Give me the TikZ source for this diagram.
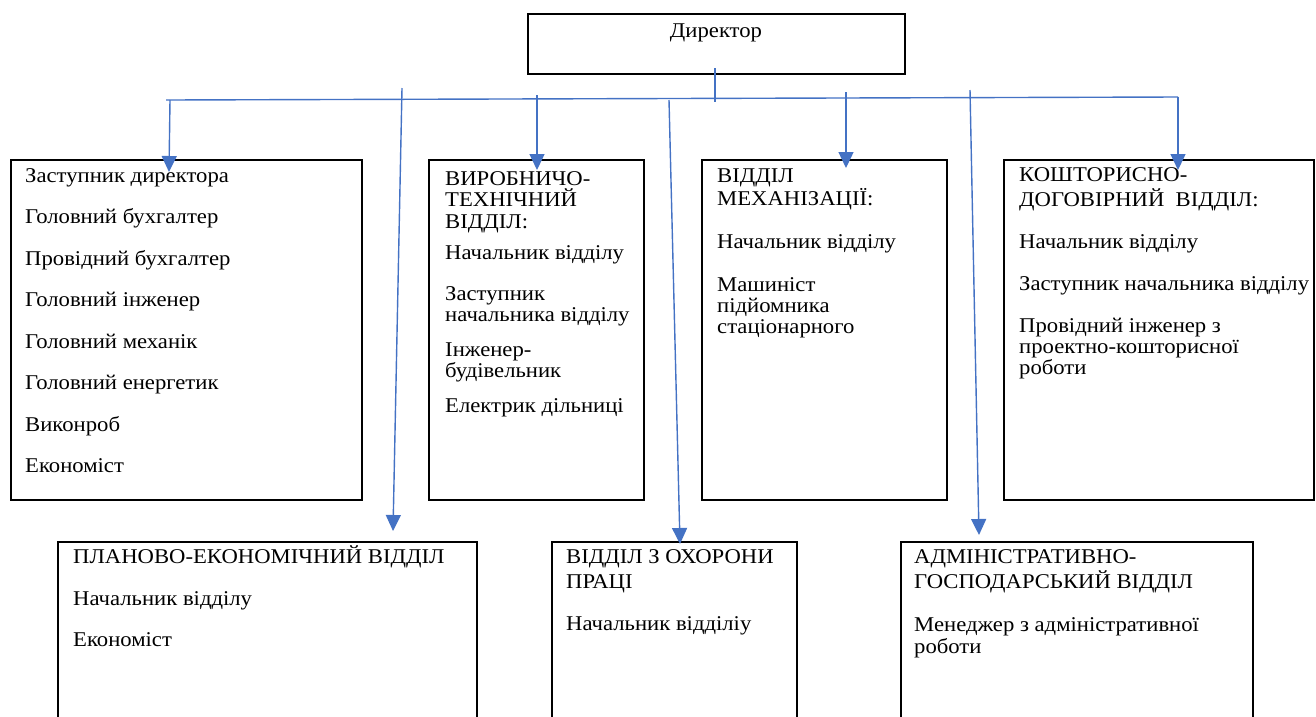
\documentclass[tikz,border=0pt]{standalone}
\usepackage{fontspec}
\setmainfont{Liberation Serif}[FakeStretch=1.08]
\usetikzlibrary{arrows.meta}
\definecolor{conblue}{HTML}{4472C4}
\tikzset{
  box/.style={draw=black, line width=2.3pt, anchor=north west, inner sep=0pt, fill=none},
  txt/.style={anchor=base west, inner sep=0pt, font=\fontsize{21}{24}\selectfont},
  conn/.style={draw=conblue, line width=1.4pt},
  arr/.style={conn, -{Triangle[width=15pt,length=16pt]}}
}
\begin{document}
\begin{tikzpicture}[x=1pt,y=-1pt]
\useasboundingbox (0,0) rectangle (1316,716);
\clip (0,0) rectangle (1316,716);
% boxes
\node[box, minimum width=377, minimum height=60] (d) at (527,13) {};
\node[box, minimum width=351, minimum height=340] (b1) at (10,158.5) {};
\node[box, minimum width=215, minimum height=340] (b2) at (428,158.5) {};
\node[box, minimum width=245, minimum height=340] (b3) at (701,158.5) {};
\node[box, minimum width=310, minimum height=340] (b4) at (1003,158.5) {};
\node[box, minimum width=419, minimum height=200] (b5) at (57,540.5) {};
\node[box, minimum width=245, minimum height=200] (b6) at (551,540.5) {};
\node[box, minimum width=352, minimum height=200] (b7) at (900,540.5) {};
% director
\node[txt, anchor=base] (dt) at (716,37) {Директор};
% box 1
\node[txt] (b1a) at (25,182) {Заступник директора};
\node[txt] (b1b) at (25,223.5) {Головний бухгалтер};
\node[txt] (b1c) at (25,265) {Провідний бухгалтер};
\node[txt] (b1d) at (25,306.5) {Головний інженер};
\node[txt] (b1e) at (25,348) {Головний механік};
\node[txt] (b1f) at (25,389.5) {Головний енергетик};
\node[txt] (b1g) at (25,431) {Виконроб};
\node[txt] (b1h) at (25,472.5) {Економіст};
% box 2
\node[txt] (b2a) at (445,185) {ВИРОБНИЧО-};
\node[txt] (b2b) at (445,206.7) {ТЕХНІЧНИЙ};
\node[txt] (b2c) at (445,228.3) {ВІДДІЛ:};
\node[txt] (b2d) at (445,259) {Начальник відділу};
\node[txt] (b2e) at (445,300) {Заступник};
\node[txt] (b2f) at (445,321) {начальника відділу};
\node[txt] (b2g) at (445,356) {Інженер-};
\node[txt] (b2h) at (445,377) {будівельник};
\node[txt] (b2i) at (445,412) {Електрик дільниці};
% box 3
\node[txt] (b3a) at (717,182.5) {ВІДДІЛ};
\node[txt] (b3b) at (717,205) {МЕХАНІЗАЦІЇ:};
\node[txt] (b3c) at (717,248) {Начальник відділу};
\node[txt] (b3d) at (717,291) {Машиніст};
\node[txt] (b3e) at (717,312) {підйомника};
\node[txt] (b3f) at (717,333) {стаціонарного};
% box 4
\node[txt] (b4a) at (1019,181.7) {КОШТОРИСНО-};
\node[txt] (b4b) at (1019,206.7) {ДОГОВІРНИЙ\ \ ВІДДІЛ:};
\node[txt] (b4c) at (1019,248) {Начальник відділу};
\node[txt] (b4d) at (1019,290) {Заступник начальника відділу};
\node[txt] (b4e) at (1019,332) {Провідний інженер з};
\node[txt] (b4f) at (1019,353) {проектно-кошторисної};
\node[txt] (b4g) at (1019,374) {роботи};
% box 5
\node[txt] (b5a) at (73,563.3) {ПЛАНОВО-ЕКОНОМІЧНИЙ ВІДДІЛ};
\node[txt] (b5b) at (73,605) {Начальник відділу};
\node[txt] (b5c) at (73,646) {Економіст};
% box 6
\node[txt] (b6a) at (566,563.3) {ВІДДІЛ З ОХОРОНИ};
\node[txt] (b6b) at (566,588.3) {ПРАЦІ};
\node[txt] (b6c) at (566,630) {Начальник відділіу};
% box 7
\node[txt] (b7a) at (914,563.3) {АДМІНІСТРАТИВНО-};
\node[txt] (b7b) at (914,588.3) {ГОСПОДАРСЬКИЙ ВІДДІЛ};
\node[txt] (b7c) at (914,631.7) {Менеджер з адміністративної};
\node[txt] (b7d) at (914,653.3) {роботи};
% connector coordinates
\coordinate (dtop) at (715,68);
\coordinate (dj) at (715,102);
\coordinate (busL) at (166,100);
\coordinate (busR) at (1178,97);
\coordinate (a1s) at (170,100);
\coordinate (a1e) at (169,172);
\coordinate (a2s) at (537,95);
\coordinate (a2e) at (537,170);
\coordinate (a3s) at (846,92);
\coordinate (a3e) at (846,168);
\coordinate (a4e) at (1178,170);
\coordinate (l1s) at (402,88);
\coordinate (l1e) at (393,531);
\coordinate (l2s) at (669,100);
\coordinate (l2e) at (680,544);
\coordinate (l3s) at (970,90);
\coordinate (l3e) at (979,535);
% connectors
\draw[conn] (dtop) -- (dj);
\draw[conn] (busL) -- (busR);
\draw[arr] (busR) -- (a4e);
\draw[arr] (a1s) -- (a1e);
\draw[arr] (a2s) -- (a2e);
\draw[arr] (a3s) -- (a3e);
\draw[arr] (l1s) -- (l1e);
\draw[arr] (l2s) -- (l2e);
\draw[arr] (l3s) -- (l3e);
\end{tikzpicture}
\end{document}
